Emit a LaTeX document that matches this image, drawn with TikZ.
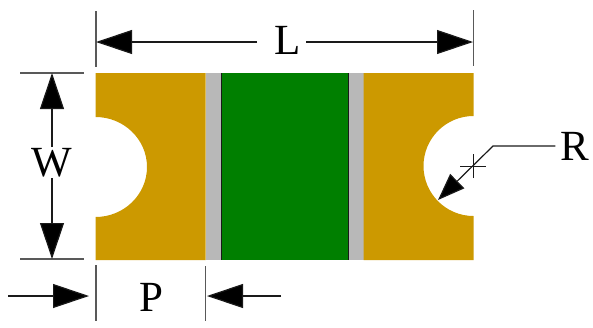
\documentclass[tikz,border=0pt]{standalone}
\usepackage{fontspec}
\setmainfont{Liberation Serif}
\usetikzlibrary{arrows.meta}
\definecolor{padgold}{HTML}{CC9900}
\definecolor{bodygreen}{HTML}{007F00}
\definecolor{capgray}{HTML}{B8B8B8}
\definecolor{inkline}{HTML}{1A1A1A}
\tikzset{
  dimlabel/.style={inner sep=0pt,font=\fontsize{43}{43}\selectfont,text=black},
  extline/.style={draw=black!65,line width=1.2pt},
  dimline/.style={draw=inkline,line width=1.2pt,-{Triangle[length=36pt,width=24pt,fill=black]}},
  smallarrow/.style={draw=inkline,line width=1.2pt,-{Triangle[length=27pt,width=20pt,fill=black]}},
  thinline/.style={draw=inkline,line width=1pt}
}
\begin{document}
\begin{tikzpicture}[x=1pt,y=-1pt]
\useasboundingbox (0,0) rectangle (593,327);
% body
\fill[capgray] (205.5,73) rectangle (363.5,260);
\fill[bodygreen] (221,73) rectangle (348,260);
\draw[inkline,line width=0.9pt] (221,73) -- (221,260) (348,73) -- (348,260);
% pads
\fill[padgold] (95.5,73) -- (205.5,73) -- (205.5,260) -- (95.5,260) -- (95.5,217)
  arc[start angle=90,end angle=-90,x radius=51.5,y radius=50] -- cycle;
\fill[padgold] (473.5,73) -- (363.5,73) -- (363.5,260) -- (473.5,260) -- (473.5,216)
  arc[start angle=90,end angle=270,radius=50] -- cycle;
% labels
\node[dimlabel] (L) at (288,40) {L};
\node[dimlabel] (W) at (52,163) {W};
\node[dimlabel] (P) at (151.5,297) {P};
\node[dimlabel] (R) at (575,146) {R};
% extension lines
\coordinate (Lx1a) at (96,11);   \coordinate (Lx1b) at (96,67);
\coordinate (Lx2a) at (473.5,10);\coordinate (Lx2b) at (473.5,66);
\coordinate (Wx1a) at (20,73);   \coordinate (Wx1b) at (84,73);
\coordinate (Wx2a) at (20,259);  \coordinate (Wx2b) at (84,259);
\coordinate (Px1a) at (96,265);  \coordinate (Px1b) at (96,321);
\coordinate (Px2a) at (205.5,266);\coordinate (Px2b) at (205.5,321);
\draw[extline] (Lx1a) -- (Lx1b);
\draw[extline] (Lx2a) -- (Lx2b);
\draw[extline] (Wx1a) -- (Wx1b);
\draw[extline] (Wx2a) -- (Wx2b);
\draw[extline] (Px1a) -- (Px1b);
\draw[extline] (Px2a) -- (Px2b);
% dimension arrows
\coordinate (Ltipl) at (96,42);  \coordinate (Ltipr) at (473,42);
\coordinate (Wtipt) at (52,73);  \coordinate (Wtipb) at (52,259);
\coordinate (Lstartl) at (257,42); \coordinate (Lstartr) at (306,42);
\coordinate (Wstartt) at (52,147); \coordinate (Wstartb) at (52,178);
\coordinate (Pfroml) at (8,296); \coordinate (Ptipl) at (89,296);
\coordinate (Pfromr) at (281,296);\coordinate (Ptipr) at (207,296);
\draw[dimline] (Lstartl) -- (Ltipl);
\draw[dimline] (Lstartr) -- (Ltipr);
\draw[dimline] (Wstartt) -- (Wtipt);
\draw[dimline] (Wstartb) -- (Wtipb);
\draw[dimline] (Pfroml) -- (Ptipl);
\draw[dimline] (Pfromr) -- (Ptipr);
% radius leader
\coordinate (Rbend) at (493,146);
\coordinate (Rtip) at (438,200);
\coordinate (Cc) at (473,166);
\draw[smallarrow] ([xshift=-5pt]R.west) -- (Rbend) -- (Rtip);
\draw[thinline] ([xshift=-13pt]Cc) -- ([xshift=13pt]Cc);
\draw[thinline] ([yshift=-12pt]Cc) -- ([yshift=12pt]Cc);
\end{tikzpicture}
\end{document}
